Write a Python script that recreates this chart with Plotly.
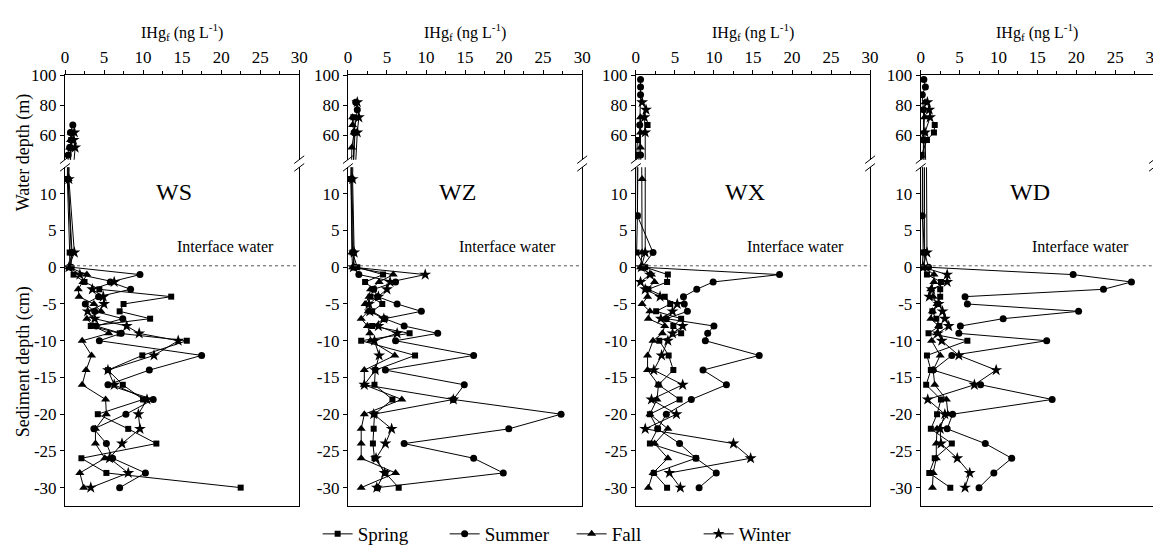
import plotly.graph_objects as go

SITES = ["WS", "WZ", "WX", "WD"]
SEASONS = ["Spring", "Summer", "Fall", "Winter"]
SYMBOLS = {"Spring": "square", "Summer": "circle", "Fall": "triangle-up", "Winter": "star"}
SIZES = {"Spring": 6, "Summer": 7, "Fall": 8, "Winter": 9}

# sediment depth (cm, negative = below interface)
SED_DEPTH = [0, -1, -2, -3, -4, -5, -6, -7, -8, -9, -10, -12, -14, -16, -18, -20, -22, -24, -26, -28, -30]

# IHgf (ng/L) in sediment pore water
WS_SED = {
    "Spring": [0.6, 1.1, 2.5, 4.4, 13.6, 7.5, 7.0, 10.9, 3.3, 7.0, 15.6, 9.9, 5.5, 7.4, 10.0, 4.2, 8.1, 11.7, 2.1, 5.3, 22.5],
    "Summer": [0.8, 9.6, 5.8, 8.4, 4.3, 2.6, 3.8, 7.4, 4.0, 7.2, 4.4, 17.5, 10.8, 5.5, 11.3, 7.8, 3.7, 5.3, 6.1, 10.3, 7.0],
    "Fall":   [0.5, 2.8, 2.3, 1.7, 1.8, 3.7, 4.6, 2.8, 3.6, 5.6, 2.2, 3.4, 2.7, 2.2, 5.2, 5.3, 3.9, 3.9, 5.1, 1.9, 2.4],
    "Winter": [0.5, 1.9, 6.3, 3.5, 4.9, 5.0, 2.9, 3.8, 7.9, 9.5, 14.5, 11.4, 5.5, 6.3, 10.5, 9.4, 9.6, 7.3, 5.7, 8.1, 3.3],
}
WZ_SED = {
    "Spring": [1.2, 4.5, 2.2, 3.3, 2.9, 4.4, 3.1, 4.7, 3.1, 7.9, 1.7, 8.6, 3.5, 3.4, 5.7, 3.4, 3.3, 3.2, 3.4, 4.8, 6.5],
    "Summer": [0.8, 1.4, 6.1, 3.3, 3.8, 6.3, 9.4, 4.7, 7.2, 11.5, 6.1, 16.1, 4.8, 14.9, 13.5, 27.3, 20.6, 7.2, 16.1, 19.9, 3.8],
    "Fall":   [0.6, 5.8, 4.0, 2.9, 2.7, 2.2, 2.6, 1.7, 2.5, 2.8, 2.9, 6.0, 2.1, 2.1, 6.9, 2.1, 1.7, 1.7, 1.7, 6.1, 1.7],
    "Winter": [0.7, 9.9, 5.4, 5.0, 3.9, 2.7, 2.8, 4.6, 3.9, 6.3, 3.4, 4.0, 3.5, 2.1, 13.5, 3.3, 5.6, 4.8, 3.6, 4.7, 3.7],
}
WX_SED = {
    "Spring": [1.2, 4.1, 4.0, 1.6, 3.7, 4.4, 2.6, 5.8, 4.8, 5.8, 3.0, 4.2, 4.8, 2.9, 5.6, 1.8, 2.8, 1.8, 7.7, 2.3, 4.0],
    "Summer": [0.8, 18.4, 9.9, 7.8, 6.1, 6.2, 6.6, 3.9, 10.0, 9.2, 8.9, 15.8, 8.6, 11.6, 7.1, 3.9, 2.8, 5.6, 7.7, 10.3, 8.1],
    "Fall":   [0.6, 2.0, 2.4, 1.4, 1.5, 0.8, 1.8, 1.6, 3.7, 3.4, 2.2, 1.5, 1.5, 2.9, 2.7, 1.8, 4.1, 2.4, 4.1, 2.2, 1.6],
    "Winter": [0.7, 1.8, 0.6, 1.2, 3.1, 5.3, 4.7, 3.2, 6.0, 4.7, 4.1, 3.3, 2.3, 6.0, 2.0, 5.2, 1.2, 12.5, 14.7, 4.3, 5.7],
}
WD_SED = {
    "Spring": [0.2, 0.8, 2.6, 2.5, 2.5, 2.2, 1.5, 2.0, 2.4, 1.0, 6.0, 0.8, 1.3, 0.7, 2.6, 2.1, 1.3, 4.0, 1.8, 1.1, 3.8],
    "Summer": [1.0, 19.6, 27.1, 23.5, 5.7, 6.0, 20.3, 10.6, 5.1, 4.9, 16.2, 4.0, 1.6, 7.7, 16.9, 4.1, 3.4, 8.3, 11.7, 9.4, 7.5],
    "Fall":   [0.4, 1.7, 1.7, 1.3, 1.6, 2.1, 1.5, 1.3, 2.3, 2.1, 1.4, 2.5, 1.6, 1.8, 3.3, 3.5, 2.1, 2.0, 2.0, 1.6, 1.5],
    "Winter": [0.3, 3.4, 3.4, 1.4, 1.1, 2.3, 2.8, 3.1, 3.6, 2.2, 2.7, 4.9, 9.7, 6.9, 0.9, 3.1, 2.5, 2.6, 4.7, 6.3, 5.7],
}

# water column, upper part (water depth in m) : (depths, values)
WS_WATER = {
    "Spring": ([62, 57, 52], [0.9, 0.8, 0.7]),
    "Summer": ([67, 62, 57, 52, 47], [1.0, 0.7, 0.9, 0.6, 0.4]),
    "Fall":   ([62, 57, 52], [0.8, 0.7, 0.6]),
    "Winter": ([62, 57, 52], [1.2, 1.1, 1.3]),
}
WZ_WATER = {
    "Spring": ([72, 62], [0.7, 0.9]),
    "Summer": ([82, 77, 62], [1.0, 1.2, 0.8]),
    "Fall":   ([72, 67, 62, 52], [0.6, 0.6, 0.8, 0.5]),
    "Winter": ([82, 72, 62], [1.2, 1.4, 1.2]),
}
WX_WATER = {
    "Spring": ([67, 57, 47], [1.5, 0.2, 0.1]),
    "Summer": ([97, 92, 87, 67, 47], [0.6, 0.6, 0.6, 0.5, 0.6]),
    "Fall":   ([72, 62, 52], [0.6, 0.6, 0.6]),
    "Winter": ([82, 77, 72, 62], [0.8, 1.3, 1.1, 1.2]),
}
WD_WATER = {
    "Spring": ([67, 62, 57, 47], [1.8, 1.7, 0.8, 0.1]),
    "Summer": ([97, 92, 87, 77, 57], [0.4, 0.6, 0.2, 0.35, 0.35]),
    "Fall":   ([82, 72, 62], [0.55, 0.5, 0.4]),
    "Winter": ([82, 77, 72, 62], [0.85, 1.1, 1.2, 0.55]),
}

# near-bottom water (height above interface, m) : (heights, values)
WS_NEAR = {
    "Spring": ([12, 2], [0.3, 0.6]),
    "Summer": ([12, 2], [0.4, 0.8]),
    "Fall":   ([12, 2], [0.4, 0.9]),
    "Winter": ([12, 2], [0.5, 1.2]),
}
WZ_NEAR = {
    "Spring": ([12, 2], [0.4, 0.6]),
    "Summer": ([12, 2], [0.5, 0.7]),
    "Fall":   ([12, 2], [0.4, 0.5]),
    "Winter": ([12, 2], [0.6, 0.8]),
}
WX_NEAR = {
    "Spring": ([7, 2], [0.2, 0.1]),
    "Summer": ([7, 2], [0.2, 2.2]),
    "Fall":   ([12, 2], [0.8, 0.8]),
    "Winter": ([2], [1.2]),
}
WD_NEAR = {
    "Spring": ([2], [0.3]),
    "Summer": ([7, 2], [0.2, 0.5]),
    "Fall":   ([2], [0.5]),
    "Winter": ([2], [0.8]),
}

SED = [WS_SED, WZ_SED, WX_SED, WD_SED]
WATER = [WS_WATER, WZ_WATER, WX_WATER, WD_WATER]
NEAR = [WS_NEAR, WZ_NEAR, WX_NEAR, WD_NEAR]

X_RANGE = [0, 30]
UP_RANGE = [44, 100]
LOW_RANGE = [-32.5, 13.6]

FONT = "Liberation Serif"

# layout geometry (paper fractions)
X_DOMAINS = [[0.0, 0.2151], [0.2598, 0.4749], [0.5242, 0.7393], [0.7858, 1.0]]
UP_DOMAIN = [0.8036, 1.0]
LOW_DOMAIN = [0.0, 0.7857]

fig = go.Figure()

for i, site in enumerate(SITES):
    xu, yu = f"x{2*i+1}", f"y{2*i+1}"
    xl, yl = f"x{2*i+2}", f"y{2*i+2}"
    for s in SEASONS:
        wd, wv = WATER[i][s]
        nd, nv = NEAR[i][s]
        sv = SED[i][s]
        mk = dict(symbol=SYMBOLS[s], size=SIZES[s], color="black")
        # upper part: water column; continue line downward off-axis toward near-bottom value
        fig.add_trace(go.Scatter(
            x=list(wv) + [nv[0]], y=list(wd) + [UP_RANGE[0] - 40],
            mode="lines+markers", line=dict(color="black", width=1), marker=mk,
            xaxis=xu, yaxis=yu, showlegend=False, cliponaxis=True))
        # lower part: near-bottom water + sediment; line comes from above off-axis
        fig.add_trace(go.Scatter(
            x=[wv[-1]] + list(nv) + list(sv),
            y=[LOW_RANGE[1] + 40] + list(nd) + list(SED_DEPTH),
            mode="lines+markers", line=dict(color="black", width=1), marker=mk,
            xaxis=xl, yaxis=yl, name=s, showlegend=(i == 0), legendgroup=s,
            cliponaxis=True))

    sfx_u = "" if i == 0 else str(2 * i + 1)
    sfx_l = str(2 * i + 2)
    tick_font = dict(family=FONT, size=17, color="black")
    fig.update_layout(**{
        f"xaxis{sfx_u}": dict(domain=X_DOMAINS[i], range=X_RANGE, anchor=yu, side="top",
                              showline=True, linecolor="black", linewidth=1, mirror=False,
                              ticks="outside", ticklen=4, tickcolor="black", tickvals=[0, 5, 10, 15, 20, 25, 30],
                              minor=dict(ticks="outside", ticklen=3, dtick=2.5, tickcolor="black"),
                              showgrid=False, zeroline=False, tickfont=tick_font),
        f"yaxis{sfx_u}": dict(domain=UP_DOMAIN, range=UP_RANGE, anchor=xu,
                              showline=True, linecolor="black", linewidth=1, mirror=True,
                              ticks="outside", ticklen=4, tickcolor="black", tickvals=[60, 80, 100],
                              showgrid=False, zeroline=False, tickfont=tick_font),
        f"xaxis{sfx_l}": dict(domain=X_DOMAINS[i], range=X_RANGE, anchor=yl, side="bottom",
                              showline=True, linecolor="black", linewidth=1, mirror=False,
                              ticks="", showticklabels=False, showgrid=False, zeroline=False),
        f"yaxis{sfx_l}": dict(domain=LOW_DOMAIN, range=LOW_RANGE, anchor=xl,
                              showline=True, linecolor="black", linewidth=1, mirror=True,
                              ticks="outside", ticklen=4, tickcolor="black",
                              tickvals=[10, 5, 0, -5, -10, -15, -20, -25, -30],
                              ticktext=["10", "5", "0", "-5", "-10", "-15", "-20", "-25", "-30"],
                              showgrid=False, zeroline=False, tickfont=tick_font),
    })

    # interface line
    fig.add_shape(type="line", xref=xl, yref=yl, x0=0, x1=30, y0=0.2, y1=0.2,
                  line=dict(color="#555555", width=1, dash="dot"))
    # site label and interface text
    fig.add_annotation(xref=xl, yref=yl, x=14.0, y=10.2, text=site, showarrow=False,
                       xanchor="center", yanchor="middle",
                       font=dict(family=FONT, size=24, color="black"))
    fig.add_annotation(xref=xl, yref=yl, x=20.5, y=2.8, text="Interface water", showarrow=False,
                       xanchor="center", yanchor="middle",
                       font=dict(family=FONT, size=16, color="black"))
    # x-axis title on top
    xc = (X_DOMAINS[i][0] + X_DOMAINS[i][1]) / 2
    fig.add_annotation(xref="paper", yref="paper", x=xc, y=1.10, xanchor="center", yanchor="middle",
                       text="IHg<sub>f</sub> (ng L<sup>-1</sup>)", showarrow=False,
                       font=dict(family=FONT, size=16, color="black"))
    # axis break marks (//) on left and right edges
    px = 1 / 1097
    py = 1 / 448
    for xe in X_DOMAINS[i]:
        for ye in (UP_DOMAIN[0], LOW_DOMAIN[1]):
            fig.add_shape(type="line", xref="paper", yref="paper",
                          x0=xe - 5 * px, y0=ye - 4 * py, x1=xe + 5 * px, y1=ye + 4 * py,
                          line=dict(color="black", width=1))

# y-axis titles
fig.add_annotation(xref="paper", yref="paper", x=-0.038, y=0.82, text="Water depth (m)",
                   xanchor="center", yanchor="middle",
                   textangle=-90, showarrow=False, font=dict(family=FONT, size=18, color="black"))
fig.add_annotation(xref="paper", yref="paper", x=-0.038, y=0.335, text="Sediment depth (cm)",
                   xanchor="center", yanchor="middle",
                   textangle=-90, showarrow=False, font=dict(family=FONT, size=18, color="black"))

fig.update_layout(
    width=1161, height=552,
    margin=dict(l=57, r=7, t=67, b=37),
    paper_bgcolor="white", plot_bgcolor="white",
    font=dict(family=FONT, size=16, color="black"),
    legend=dict(orientation="h", x=0.232, xanchor="left", y=-0.065, yanchor="middle",
                font=dict(family=FONT, size=19, color="black"), bgcolor="rgba(0,0,0,0)",
                itemwidth=30, tracegroupgap=0, entrywidth=82),
)

fig.write_html("out.html")
